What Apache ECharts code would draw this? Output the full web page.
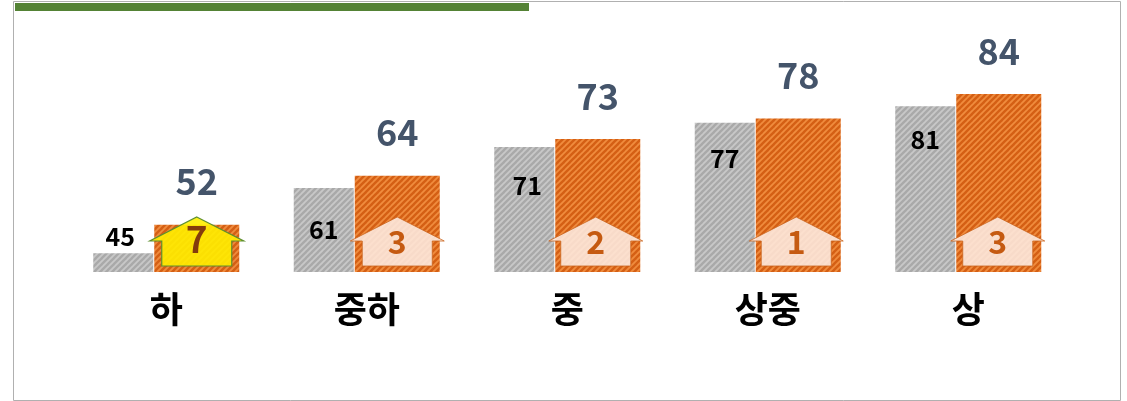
<!DOCTYPE html>
<html><head><meta charset="utf-8">
<style>html,body{margin:0;padding:0;background:#fff}#c{width:1127px;height:401px}</style>
<script src="https://cdn.jsdelivr.net/npm/echarts@6/dist/echarts.min.js"></script>
</head><body><div id="c"></div>
<script>
const categories = ['하','중하','중','상중','상'];
const before = [45,61,71,77,81];
const after = [52,64,73,78,84];
const gains = [7,3,2,1,3];

const chart = echarts.init(document.getElementById('c'), null, {renderer:'canvas'});
const FONT = '"Noto Sans CJK KR","Noto Sans",sans-serif';
const AXIS_MIN = 40.4, GRAY_W = 60, ORANGE_W = 85, GAP = 1;
const arrowShift = [0,0,-2,-2,-1];
const grayLabelStyle = [
  {position:'top', distance:4, offset:[-3,0]},
  {position:'insideTop', distance:29},
  {position:'insideTop', distance:26, offset:[3,0]},
  {position:'insideTop', distance:23},
  {position:'insideTop', distance:21}
];

function stripes(light, dark){
  const s = 6, c = document.createElement('canvas');
  c.width = s; c.height = s;
  const g = c.getContext('2d');
  g.fillStyle = light; g.fillRect(0,0,s,s);
  g.strokeStyle = dark; g.lineWidth = 2.4;
  [[-s,s,s,-s],[0,s,s,0],[0,2*s,2*s,0]].forEach(l=>{
    g.beginPath(); g.moveTo(l[0],l[1]); g.lineTo(l[2],l[3]); g.stroke();
  });
  return {image:c, repeat:'repeat'};
}
function arrow(params, api){
  const i = api.value(0), gain = api.value(1);
  const base = api.coord([i, AXIS_MIN]);
  const cx = base[0] + (GRAY_W + GAP)/2 + arrowShift[i];
  const by = base[1] - 6;
  const first = params.dataIndex === 0;
  const pts = [[cx,by-49],[cx+47,by-25],[cx+35,by-25],[cx+35,by],[cx-35,by],[cx-35,by-25],[cx-47,by-25]];
  return {
    type:'group',
    children:[
      {type:'polygon', shape:{points:pts}, style:{
        fill: first ? 'rgba(255,238,0,0.9)' : 'rgba(253,236,226,0.88)',
        stroke: first ? '#5E8F30' : '#C9641E', lineWidth: first ? 1.2 : 0.8}},
      {type:'text', x:cx, y: first ? by-27 : by-24, style:{
        text:String(gain), fontFamily:FONT, fontWeight:'bold',
        fontSize: first ? 37 : 32,
        fill: first ? '#843C0C' : '#C55A11', align:'center', verticalAlign:'middle'}}
    ]
  };
}

chart.setOption({
  animation:false,
  backgroundColor:'#fff',
  grid:{left:66, width:1002.5, top:30, bottom:129, containLabel:false},
  xAxis:{type:'category', data:categories, axisLine:{show:false}, axisTick:{show:false},
    axisLabel:{color:'#000', fontFamily:FONT, fontWeight:'bold', fontSize:36, margin:19}},
  yAxis:{type:'value', min:AXIS_MIN, max:99.7, show:false, splitLine:{show:false}},
  graphic:[
    {type:'rect', silent:true, z:-1, shape:{x:13.5,y:1.5,width:1107,height:399}, style:{fill:'#fff',stroke:'#B0B0B0',lineWidth:1}},
    {type:'rect', silent:true, z:-1, shape:{x:15,y:3,width:514,height:8}, style:{fill:'#548235'}}
  ],
  series:[
    {type:'bar', name:'이전', barWidth:GRAY_W, barGap:(GAP/GRAY_W*100)+'%',
      itemStyle:{color:stripes('#C8C8C8','#A9A9A9')},
      label:{show:true, color:'#000', fontFamily:FONT, fontWeight:'bold', fontSize:25, position:'insideTop', distance:24},
      data:before.map((v,i)=>({value:v, label:grayLabelStyle[i]}))},
    {type:'bar', name:'이후', data:after, barWidth:ORANGE_W,
      itemStyle:{color:stripes('#F08C3E','#D45F14')},
      label:{show:true, position:'top', distance:25, color:'#44546A', fontFamily:FONT, fontWeight:'bold', fontSize:36}},
    {type:'custom', name:'상승', coordinateSystem:'cartesian2d', z:5,
      data:gains.map((g,i)=>[i,g]), encode:{x:0,y:1}, renderItem:arrow, clip:false}
  ]
});
</script></body></html>
